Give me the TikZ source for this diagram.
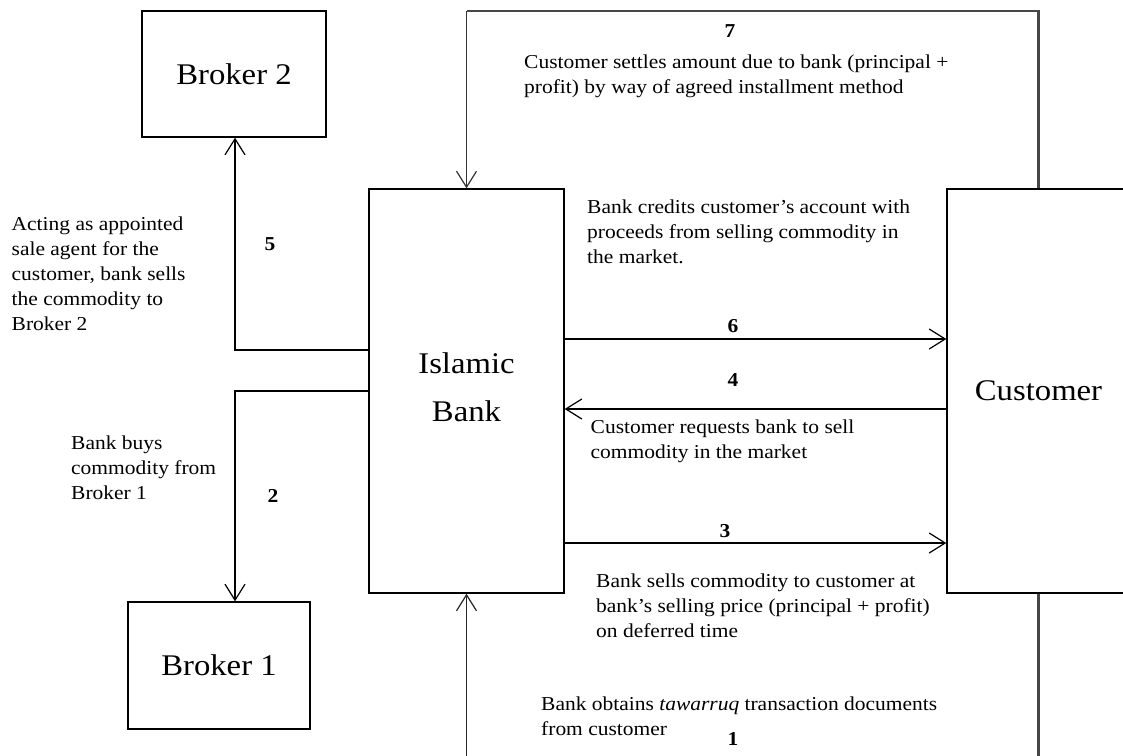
\documentclass[tikz,border=0pt]{standalone}
\usepackage{fontspec}
\setmainfont{Liberation Serif}[FakeStretch=1.09]
\usetikzlibrary{arrows.meta}
\begin{document}
\begin{tikzpicture}[x=1pt,y=-1pt,
  party/.style={draw,line width=1.4pt,inner sep=0,align=center,
    font=\fontsize{30}{48}\selectfont},
  flow/.style={line width=1.3pt,
    -{Straight Barb[length=16pt,width=20pt,line width=1.2pt]}},
  loopline/.style={line width=2.2pt,draw=black!72},
  note/.style={inner sep=0,anchor=base west,align=left,
    font=\fontsize{19.7}{25}\selectfont},
  num/.style={inner sep=0,anchor=base,font=\fontsize{19.7}{25}\selectfont\bfseries}]
\useasboundingbox (0,0) rectangle (1123,755);

% parties
\node[party,minimum width=184pt,minimum height=126pt] (b2) at (234,74) {Broker 2};
\node[party,minimum width=182pt,minimum height=127pt] (b1) at (219,665.5) {Broker 1};
\node[party,minimum width=195pt,minimum height=404pt,text depth=8pt] (bank) at (466.5,391) {Islamic\\Bank};
\node[party,minimum width=183pt,minimum height=404pt] (cust) at (1038.5,391) {Customer};

% bends of the connectors
\coordinate (k5) at (235,350);
\coordinate (k2) at (235,391);
\coordinate (k6) at (0,339);
\coordinate (k4) at (0,409);
\coordinate (k3) at (0,543);
\coordinate (k7) at (0,11);
\coordinate (k1) at (0,775);

% step 7: settlement loop over the top
\draw[loopline] (cust.north) -- (cust.north |- k7) -- (bank.north |- k7);
\draw[flow,draw=black!80] (bank.north |- k7) -- (bank.north);
% step 1: documents loop under the bottom
\draw[loopline] (cust.south) -- (cust.south |- k1) -- (bank.south |- k1);
\draw[flow,draw=black!85] (bank.south |- k1) -- (bank.south);

% steps 5 and 2: bank and brokers
\draw[flow] (bank.west |- k5) -- (k5) -- (k5 |- b2.south);
\draw[flow] (bank.west |- k2) -- (k2) -- (k2 |- b1.north);

% steps 6, 4 and 3: bank and customer
\draw[flow] (bank.east |- k6) -- (cust.west |- k6);
\draw[flow] (cust.west |- k4) -- (bank.east |- k4);
\draw[flow] (bank.east |- k3) -- (cust.west |- k3);

% step numbers
\node[num] (n7) at (730,37) {7};
\node[num] (n6) at (733,332) {6};
\node[num] (n4) at (733,386) {4};
\node[num] (n3) at (725,537) {3};
\node[num] (n1) at (733,745) {1};
\node[num] (n5) at (270,250) {5};
\node[num] (n2) at (273,502) {2};

% descriptions (placed by the baseline of their last line)
\node[note] (t7) at (524,93) {Customer settles amount due to bank (principal +\\profit) by way of agreed installment method};
\node[note] (t6) at (587,263) {Bank credits customer's account with\\proceeds from selling commodity in\\the market.};
\node[note] (t4) at (590.5,458) {Customer requests bank to sell\\commodity in the market};
\node[note] (t3) at (596,637) {Bank sells commodity to customer at\\bank's selling price (principal + profit)\\on deferred time};
\node[note] (t1) at (541,735) {Bank obtains \textit{tawarruq} transaction documents\\from customer};
\node[note] (t5) at (11.5,330) {Acting as appointed\\sale agent for the\\customer, bank sells\\the commodity to\\Broker 2};
\node[note] (t2) at (71,499) {Bank buys\\commodity from\\Broker 1};
\end{tikzpicture}
\end{document}
